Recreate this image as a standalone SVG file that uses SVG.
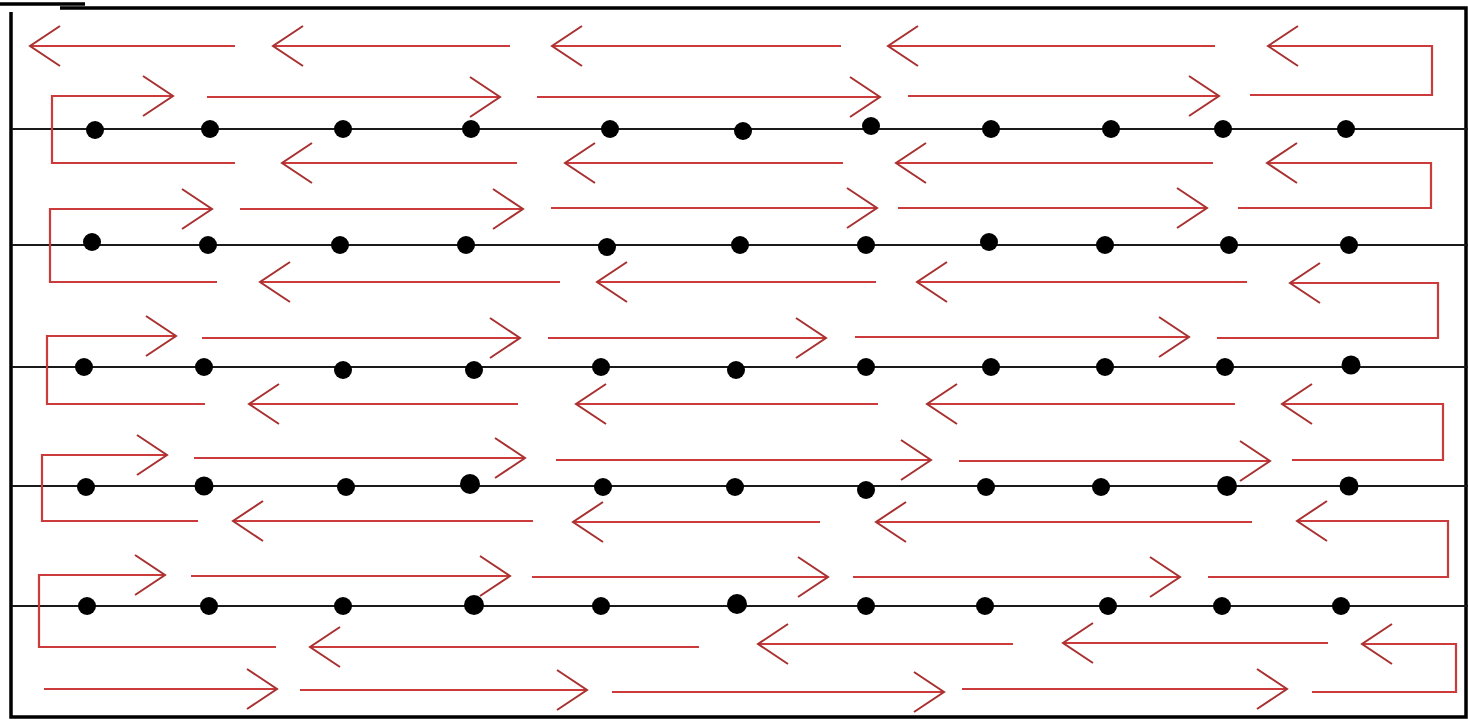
<svg xmlns="http://www.w3.org/2000/svg" width="1468" height="720" viewBox="0 0 1468 720">
<style>
.frame{stroke:#000;stroke-width:3.5;fill:none}
.axis{stroke:#1a1a1a;stroke-width:2.2;fill:none}
.dot{fill:#000}
.flow{stroke:#cc3b3b;stroke-width:2.2;fill:none}
.arr{marker-end:url(#head)}
</style>
<defs>
<marker id="head" markerUnits="userSpaceOnUse" markerWidth="40" markerHeight="46" viewBox="-34 -23 38 46" refX="0" refY="0" orient="auto">
<path d="M-30,-20 L0,0 L-30,20" fill="none" stroke="#a83030" stroke-width="2"/>
</marker>
</defs>
<rect width="1468" height="720" fill="#fff"/>
<g id="frame">
<path class="frame" d="M0,4 H85" stroke-width="5"/>
<path class="frame" d="M60,8 H1466 V717 H11 V12"/>
</g>
<g id="axes">
<path class="axis" d="M12,129 H1468"/>
<path class="axis" d="M12,245 H1468"/>
<path class="axis" d="M12,367 H1468"/>
<path class="axis" d="M12,486 H1468"/>
<path class="axis" d="M12,606 H1468"/>
</g>
<g id="connectors">
<path class="flow arr" d="M235,46 H30"/>
<path class="flow arr" d="M510,46 H273"/>
<path class="flow arr" d="M841,46 H552"/>
<path class="flow arr" d="M1215,46 H888"/>
<path class="flow arr" d="M1250,95 H1432 V46 H1268"/>
<path class="flow arr" d="M235,163 H52 V96 H173"/>
<path class="flow arr" d="M207,97 H500"/>
<path class="flow arr" d="M537,97 H880"/>
<path class="flow arr" d="M908,96 H1219"/>
<path class="flow arr" d="M517,163 H282"/>
<path class="flow arr" d="M843,163 H565"/>
<path class="flow arr" d="M1213,163 H896"/>
<path class="flow arr" d="M1238,208 H1431 V163 H1267"/>
<path class="flow arr" d="M217,282 H50 V209 H212"/>
<path class="flow arr" d="M240,209 H523"/>
<path class="flow arr" d="M551,208 H877"/>
<path class="flow arr" d="M898,208 H1207"/>
<path class="flow arr" d="M560,282 H260"/>
<path class="flow arr" d="M876,282 H597"/>
<path class="flow arr" d="M1247,282 H917"/>
<path class="flow arr" d="M1217,338 H1438 V283 H1290"/>
<path class="flow arr" d="M205,404 H47 V336 H176"/>
<path class="flow arr" d="M202,338 H520"/>
<path class="flow arr" d="M548,338 H826"/>
<path class="flow arr" d="M855,337 H1189"/>
<path class="flow arr" d="M518,404 H249"/>
<path class="flow arr" d="M878,404 H576"/>
<path class="flow arr" d="M1235,404 H927"/>
<path class="flow arr" d="M1292,460 H1443 V404 H1282"/>
<path class="flow arr" d="M198,521 H42 V455 H167"/>
<path class="flow arr" d="M194,458 H525"/>
<path class="flow arr" d="M556,460 H931"/>
<path class="flow arr" d="M959,461 H1270"/>
<path class="flow arr" d="M533,521 H233"/>
<path class="flow arr" d="M820,522 H573"/>
<path class="flow arr" d="M1252,522 H876"/>
<path class="flow arr" d="M1208,577 H1448 V521 H1297"/>
<path class="flow arr" d="M276,647 H39 V575 H165"/>
<path class="flow arr" d="M191,576 H510"/>
<path class="flow arr" d="M532,577 H828"/>
<path class="flow arr" d="M853,577 H1180"/>
<path class="flow arr" d="M699,647 H310"/>
<path class="flow arr" d="M1013,644 H758"/>
<path class="flow arr" d="M1328,643 H1063"/>
<path class="flow arr" d="M1312,692 H1456 V644 H1362"/>
<path class="flow arr" d="M44,689 H277"/>
<path class="flow arr" d="M300,690 H587"/>
<path class="flow arr" d="M612,692 H944"/>
<path class="flow arr" d="M962,689 H1287"/>
</g>
<g id="nodes">
<g id="row1">
<circle id="n1-1" class="dot" cx="95" cy="130" r="9"/>
<circle id="n1-2" class="dot" cx="210" cy="129" r="9"/>
<circle id="n1-3" class="dot" cx="343" cy="129" r="9"/>
<circle id="n1-4" class="dot" cx="471" cy="129" r="9"/>
<circle id="n1-5" class="dot" cx="610" cy="129" r="9"/>
<circle id="n1-6" class="dot" cx="743" cy="131" r="9"/>
<circle id="n1-7" class="dot" cx="871" cy="126" r="9"/>
<circle id="n1-8" class="dot" cx="991" cy="129" r="9"/>
<circle id="n1-9" class="dot" cx="1111" cy="129" r="9"/>
<circle id="n1-10" class="dot" cx="1223" cy="129" r="9"/>
<circle id="n1-11" class="dot" cx="1346" cy="129" r="9"/>
</g>
<g id="row2">
<circle id="n2-1" class="dot" cx="92" cy="242" r="9"/>
<circle id="n2-2" class="dot" cx="208" cy="245" r="9"/>
<circle id="n2-3" class="dot" cx="340" cy="245" r="9"/>
<circle id="n2-4" class="dot" cx="466" cy="245" r="9"/>
<circle id="n2-5" class="dot" cx="607" cy="247" r="9"/>
<circle id="n2-6" class="dot" cx="740" cy="245" r="9"/>
<circle id="n2-7" class="dot" cx="866" cy="245" r="9"/>
<circle id="n2-8" class="dot" cx="989" cy="242" r="9"/>
<circle id="n2-9" class="dot" cx="1105" cy="245" r="9"/>
<circle id="n2-10" class="dot" cx="1229" cy="245" r="9"/>
<circle id="n2-11" class="dot" cx="1349" cy="245" r="9"/>
</g>
<g id="row3">
<circle id="n3-1" class="dot" cx="84" cy="367" r="9"/>
<circle id="n3-2" class="dot" cx="204" cy="367" r="9"/>
<circle id="n3-3" class="dot" cx="343" cy="370" r="9"/>
<circle id="n3-4" class="dot" cx="474" cy="370" r="9"/>
<circle id="n3-5" class="dot" cx="601" cy="367" r="9"/>
<circle id="n3-6" class="dot" cx="736" cy="370" r="9"/>
<circle id="n3-7" class="dot" cx="866" cy="367" r="9"/>
<circle id="n3-8" class="dot" cx="991" cy="367" r="9"/>
<circle id="n3-9" class="dot" cx="1105" cy="367" r="9"/>
<circle id="n3-10" class="dot" cx="1225" cy="367" r="9"/>
<circle id="n3-11" class="dot" cx="1351" cy="365" r="9.5"/>
</g>
<g id="row4">
<circle id="n4-1" class="dot" cx="86" cy="487" r="9"/>
<circle id="n4-2" class="dot" cx="204" cy="486" r="9.5"/>
<circle id="n4-3" class="dot" cx="346" cy="487" r="9"/>
<circle id="n4-4" class="dot" cx="470" cy="484" r="10"/>
<circle id="n4-5" class="dot" cx="603" cy="487" r="9"/>
<circle id="n4-6" class="dot" cx="735" cy="487" r="9"/>
<circle id="n4-7" class="dot" cx="866" cy="490" r="9"/>
<circle id="n4-8" class="dot" cx="986" cy="487" r="9"/>
<circle id="n4-9" class="dot" cx="1101" cy="487" r="9"/>
<circle id="n4-10" class="dot" cx="1227" cy="486" r="10"/>
<circle id="n4-11" class="dot" cx="1349" cy="486" r="9.5"/>
</g>
<g id="row5">
<circle id="n5-1" class="dot" cx="87" cy="606" r="9"/>
<circle id="n5-2" class="dot" cx="209" cy="606" r="9"/>
<circle id="n5-3" class="dot" cx="343" cy="606" r="9"/>
<circle id="n5-4" class="dot" cx="474" cy="605" r="10"/>
<circle id="n5-5" class="dot" cx="601" cy="606" r="9"/>
<circle id="n5-6" class="dot" cx="737" cy="604" r="10"/>
<circle id="n5-7" class="dot" cx="866" cy="606" r="9"/>
<circle id="n5-8" class="dot" cx="985" cy="606" r="9"/>
<circle id="n5-9" class="dot" cx="1108" cy="606" r="9"/>
<circle id="n5-10" class="dot" cx="1222" cy="606" r="9"/>
<circle id="n5-11" class="dot" cx="1341" cy="606" r="9"/>
</g>
</g>
</svg>
